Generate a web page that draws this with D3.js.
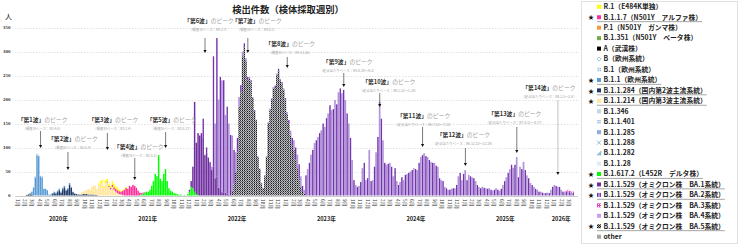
<!DOCTYPE html>
<html lang="ja">
<head>
<meta charset="utf-8">
<title>検出件数（検体採取週別）</title>
<script src="https://cdn.jsdelivr.net/npm/d3@7"></script>
<style>
  body { margin: 0; background: #fff; }
  svg { display: block; }
</style>
</head>
<body>
<div id="vis"></div>
<script>
// weekly detections per lineage; week 0 starts 2020-01-01
const firstDay = Date.UTC(2020, 0, 1);
const weekCount = 327;

const wkA = 7;      const cntA = [1, 2, 2, 1];
const wkB11 = 9;    const cntB11 = [3, 7, 17, 38, 84, 82, 40, 38, 14, 14, 11, 2, 2, 2, 3, 2, 3, 3, 2, 3, 3, 2, 2, 3, 2, 1];
const wkB1 = 11;    const cntB1 = [1, 2, 4, 3, 2, 2];
const wk284 = 22;   const cnt284 = [3, 5, 4, 7, 11, 6, 13, 17, 10, 13, 23, 16, 7, 4, 3, 2, 2, 2, 3, 3, 3, 2, 2, 2, 2, 1, 1];
const wk214 = 38;   const cnt214 = [2, 4, 5, 7, 9, 12, 10, 16, 18, 20, 13, 22, 25, 26, 16, 25, 27, 18, 13, 18, 12, 8, 5, 3, 2, 1];
const wkR1 = 49;    const cntR1 = [3, 5, 7, 4, 7, 6, 5, 4, 8, 7, 6, 5, 3, 2, 2, 2, 2, 1];
const wkAlpha = 54; const cntAlpha = [2, 2, 3, 4, 5, 6, 6, 6, 6, 9, 12, 16, 14, 20, 18, 22, 20, 16, 10, 5, 3, 2, 1];
const wkDelta = 73; const cntDelta = [1, 2, 4, 6, 8, 8, 12, 20, 30, 45, 40, 84, 35, 30, 45, 55, 30, 15, 10, 8, 5, 4, 3, 1, 2, 0, 1, 0, 3, 8, 18, 15, 8, 3, 1];
const wkBA1 = 102;  const cntBA1 = [4, 12, 45, 187, 107, 129, 125, 130, 120, 84, 90, 78, 68, 53, 60, 36, 40, 16, 15, 7, 6, 5, 4, 2, 1];
const wkBA2 = 110;  const cntBA2 = [
  40, 1, 10, 2, 2, 7, 230, 114, 288, 184, 232, 233, 234, 163, 181, 148, 125, 115, 70, 40,
  30, 20, 15, 10, 8, 6, 5, 4, 3, 2, 2, 1, 1, 1, 1, 1, 2, 2, 2, 3,
  3, 3, 3, 3, 3, 3, 3, 3, 3, 4, 7, 10, 15, 20, 25, 30, 30, 22, 12, 8,
  42, 55, 68, 85, 95, 109, 115, 122, 130, 136, 150, 143, 161, 171, 188, 178, 180, 199, 190, 215,
  223, 213, 220, 199, 171, 150, 120, 74, 32, 22, 18, 20, 28, 57, 68, 32, 36, 95, 30, 32,
  60, 90, 122, 195, 160, 115, 68, 64, 66, 68, 60, 40, 57, 30, 22, 28, 38, 32, 43, 45,
  47, 50, 53, 57, 55, 53, 68, 80, 84, 88, 82, 80, 74, 70, 68, 68, 62, 60, 36, 32,
  30, 18, 15, 12, 12, 14, 15, 15, 22, 40, 47, 32, 45, 53, 32, 43, 40, 38, 36, 30,
  22, 18, 15, 18, 16, 15, 14, 15, 12, 10, 12, 15, 12, 10, 14, 22, 30, 38, 47, 55,
  64, 58, 64, 80, 38, 60, 55, 70, 53, 42, 36, 26, 22, 18, 14, 12, 8, 8, 6, 5,
  5, 6, 5, 12, 18, 22, 20, 18, 18, 12, 8, 7, 8, 9, 7, 6, 6
];
const wkBA3 = 321;  const cntBA3 = [1, 2, 3, 3, 2, 2];
const wkBA5 = 127;  const cntBA5 = [
  10, 25, 50, 90, 185, 215, 290, 309, 280, 242, 243, 237, 203, 176, 157, 80, 55, 25, 15, 40,
  80, 150, 178, 199, 223, 226, 251, 261, 240, 233, 220, 200, 170, 150, 125, 105, 95, 75, 55, 35,
  18, 8, 4
];

// stacking order, bottom to top
const stackKeys = ["B.1.617.2", "BA.5", "BA.1", "BA.2", "BA.3", "A", "B.1.1.284", "B.1.1", "B.1", "B.1.1.214", "B.1.1.7", "R.1"];
const seriesStart = {"A": wkA, "B.1.1": wkB11, "B.1": wkB1, "B.1.1.284": wk284, "B.1.1.214": wk214, "R.1": wkR1,
  "B.1.1.7": wkAlpha, "B.1.617.2": wkDelta, "BA.1": wkBA1, "BA.2": wkBA2, "BA.3": wkBA3, "BA.5": wkBA5};
const seriesValues = {"A": cntA, "B.1.1": cntB11, "B.1": cntB1, "B.1.1.284": cnt284, "B.1.1.214": cnt214, "R.1": cntR1,
  "B.1.1.7": cntAlpha, "B.1.617.2": cntDelta, "BA.1": cntBA1, "BA.2": cntBA2, "BA.3": cntBA3, "BA.5": cntBA5};

// legend, top to bottom
const legendKeys = ["R.1", "B.1.1.7", "P.1", "B.1.351", "A", "B", "B.1", "B.1.1", "B.1.1.284", "B.1.1.214",
  "B.1.346", "B.1.1.401", "B.1.1.285", "B.1.1.288", "B.1.1.282", "B.1.1.28", "B.1.617.2",
  "BA.1", "BA.2", "BA.3", "BA.4", "BA.5", "other"];
const legendNames = [
  "R.1（E484K単独）", "B.1.1.7（N501Y　アルファ株）", "P.1（N501Y　ガンマ株）", "B.1.351（N501Y　ベータ株）",
  "A（武漢株）", "B（欧州系統）", "B.1（欧州系統）", "B.1.1（欧州系統）", "B.1.1.284（国内第2波主流系統）",
  "B.1.1.214（国内第3波主流系統）", "B.1.346", "B.1.1.401", "B.1.1.285", "B.1.1.288", "B.1.1.282", "B.1.1.28",
  "B.1.617.2（L452R　デルタ株）", "B.1.1.529（オミクロン株　BA.1系統）", "B.1.1.529（オミクロン株　BA.2系統）",
  "B.1.1.529（オミクロン株　BA.3系統）", "B.1.1.529（オミクロン株　BA.4系統）", "B.1.1.529（オミクロン株　BA.5系統）", "other"];
const starredKeys = ["B.1.1.7", "B.1.1", "B.1.1.284", "B.1.1.214", "B.1.617.2", "BA.1", "BA.2", "BA.5"];

// wave peak annotations
const waveNames = ["第1波", "第2波", "第3波", "第4波", "第5波", "第6波", "第7波", "第8波", "第9波", "第10波", "第11波", "第12波", "第13波", "第14波"];
const waveBasis = [
  "（検査日ベース：R2.4.6）", "（検査日ベース：R2.8.4）", "（検査日ベース：R3.1.4）", "（検査日ベース：R3.5.3）",
  "（検査日ベース：R3.8.17）", "（検査日ベース：R4.2.7）", "（検査日ベース：R4.8.1）", "（検査日ベース：R4.12.26）",
  "（定点当たりベース：R5.8.28～9.3）", "（定点当たりベース：R6.1.22～1.28）", "（定点当たりベース：R6.7.22～7.28）",
  "（定点当たりベース：R6.12.23～12.29）", "（定点当たりベース：R7.8.11～8.17）", "（定点当たりベース：R8.2.2～2.8）"];
const wavePeakWeek = [15, 31, 54, 70, 88, 111, 136, 159, 192, 213, 238, 263, 293, 317];

const yTicks = [0, 50, 100, 150, 200, 250, 300, 350];

// ---- layout ----
const W = 740, H = 246;
const jp = '"Noto Sans CJK JP", "Noto Sans", sans-serif';
const dayMs = 864e5;
const weekDate = i => new Date(firstDay + i * 7 * dayMs);

const x = d3.scaleUtc()
  .domain([new Date(firstDay), new Date(Date.UTC(2026, 3, 15))])
  .range([14, 575.9]);
const y = d3.scaleLinear().domain([0, 350]).range([195.5, 27.5]);
const step = x(weekDate(1)) - x(weekDate(0));

const svg = d3.select("#vis").append("svg")
  .attr("width", W).attr("height", H)
  .style("font-family", jp);

// patterns
const defs = svg.append("defs");
const ba2 = defs.append("pattern").attr("id", "pBA2").attr("patternUnits", "userSpaceOnUse")
  .attr("x", x(weekDate(0))).attr("width", step * 2).attr("height", 4);
ba2.append("rect").attr("width", step).attr("height", 4).attr("fill", "#7434ac");
ba2.append("rect").attr("x", step).attr("width", step).attr("height", 4).attr("fill", "#b293dc");

const ba5 = defs.append("pattern").attr("id", "pBA5").attr("patternUnits", "userSpaceOnUse")
  .attr("width", 2).attr("height", 2);
ba5.append("rect").attr("width", 2).attr("height", 2).attr("fill", "#1c1c1c");
ba5.append("rect").attr("x", 1).attr("width", 1).attr("height", 1).attr("fill", "#b8b8c4");
ba5.append("rect").attr("y", 1).attr("width", 1).attr("height", 1).attr("fill", "#9a9aa6");

const ba3 = defs.append("pattern").attr("id", "pBA3").attr("patternUnits", "userSpaceOnUse")
  .attr("width", 2).attr("height", 2);
ba3.append("rect").attr("width", 2).attr("height", 2).attr("fill", "#e040c8");
ba3.append("rect").attr("width", 1).attr("height", 1).attr("fill", "#ffffff");

const b1 = defs.append("pattern").attr("id", "pB1").attr("patternUnits", "userSpaceOnUse")
  .attr("width", 2).attr("height", 2);
b1.append("rect").attr("width", 2).attr("height", 2).attr("fill", "#dbe8f6");
b1.append("rect").attr("width", 1).attr("height", 1).attr("fill", "#8fb4e0");

const lineageFill = {
  "R.1": "#ffff00", "B.1.1.7": "#ff2d9a", "P.1": "#f79646", "B.1.351": "#70ad47", "A": "#000000",
  "B": "#5b9bd5", "B.1": "url(#pB1)", "B.1.1": "#5b9bd5", "B.1.1.284": "#1f3864", "B.1.1.214": "#ffe699",
  "B.1.346": "#bdd7ee", "B.1.1.401": "#5b9bd5", "B.1.1.285": "#8faadc", "B.1.1.288": "#5b9bd5",
  "B.1.1.282": "#9dc3e6", "B.1.1.28": "#deebf7", "B.1.617.2": "#00ff00", "BA.1": "#7030a0",
  "BA.2": "url(#pBA2)", "BA.3": "url(#pBA3)", "BA.4": "#cc99ff", "BA.5": "url(#pBA5)", "other": "#a6a6a6"
};

// title
svg.append("text").attr("x", 288).attr("y", 12.5).attr("text-anchor", "middle")
  .attr("font-size", 9.3).attr("font-weight", "bold").attr("fill", "#222")
  .text("検出件数（検体採取週別）");
svg.append("text").attr("x", 5).attr("y", 18.5).attr("font-size", 7).attr("fill", "#222").text("人");

// gridlines and y labels
svg.append("g").selectAll("line").data(yTicks).join("line")
  .attr("x1", 15).attr("x2", 578)
  .attr("y1", d => Math.round(y(d)) + 0.5).attr("y2", d => Math.round(y(d)) + 0.5)
  .attr("stroke", d => d === 0 ? "#bfbfbf" : "#dcdcdc")
  .attr("stroke-width", 0.8)
  .attr("stroke-dasharray", d => d === 0 ? null : "1.5,1.5");
svg.append("g").selectAll("text").data(yTicks).join("text")
  .attr("x", 10.5).attr("y", d => y(d) + 1.8).attr("text-anchor", "end")
  .attr("font-size", 5).attr("font-weight", "bold").attr("fill", "#333")
  .style("font-family", '"Liberation Serif", serif')
  .text(d => d);

// stacked weekly bars
const table = d3.range(weekCount).map(i => {
  const row = {week: i};
  stackKeys.forEach(k => {
    const j = i - seriesStart[k];
    row[k] = j >= 0 && j < seriesValues[k].length ? seriesValues[k][j] : 0;
  });
  return row;
});
const stacked = d3.stack().keys(stackKeys)(table);
svg.append("g").selectAll("g").data(stacked).join("g")
  .attr("fill", s => lineageFill[s.key])
  .selectAll("rect").data(s => s.filter(d => d[1] > d[0])).join("rect")
  .attr("x", d => x(weekDate(d.data.week)))
  .attr("width", step * 0.86)
  .attr("y", d => y(d[1]))
  .attr("height", d => y(d[0]) - y(d[1]));

// month and year labels
const months = d3.utcMonth.range(new Date(Date.UTC(2020, 0, 1)), new Date(Date.UTC(2026, 3, 1)));
const monthX = m => x(new Date(Date.UTC(m.getUTCFullYear(), m.getUTCMonth(), 15)));
svg.append("g").selectAll("text").data(months).join("text")
  .attr("transform", m => `translate(${monthX(m) - 1.7},199) rotate(90)`)
  .attr("font-size", 4.8).attr("fill", "#333")
  .text(m => (m.getUTCMonth() + 1) + "月");
const years = d3.groups(months, m => m.getUTCFullYear());
svg.append("g").selectAll("text").data(years).join("text")
  .attr("x", ([, ms]) => d3.mean(ms, monthX)).attr("y", 221)
  .attr("text-anchor", "middle").attr("font-size", 5.6).attr("font-weight", "bold").attr("fill", "#222")
  .text(([yr]) => yr + "年");

// wave annotations: [label shift, label baseline, arrow top, arrow tip]
const annoLayout = [
  [2, 121.5, 131, 148], [5, 140.5, 152, 170], [6, 121.5, 133, 150], [4, 148.5, 158, 180],
  [6, 121.5, 132, 148], [4, 22.5, 38, 53], [9, 22.5, 38, 53], [3, 45.5, 57, 68],
  [4, 63.5, 73, 87], [9, 83.5, 93, 107], [1, 117.5, 127, 147], [-2, 136.5, 148, 166],
  [-2, 115.5, 127, 153], [-9, 89.5, 100, 175]
];
const anno = svg.append("g").selectAll("g").data(waveNames).join("g");
anno.each(function (name, i) {
  const g = d3.select(this);
  const ax = x(weekDate(wavePeakWeek[i])) + step / 2;
  const [shift, ly, a0, a1] = annoLayout[i];
  const t = g.append("text").attr("x", ax + shift).attr("y", ly).attr("text-anchor", "middle").attr("font-size", 5.8);
  t.append("tspan").attr("font-weight", "bold").attr("fill", "#333").text("「" + name + "」");
  t.append("tspan").attr("fill", "#a0a0a0").text("のピーク");
  g.append("text").attr("x", ax + shift).attr("y", ly + 8).attr("text-anchor", "middle")
    .attr("font-size", 3.4).attr("fill", "#a0a0a0").text(waveBasis[i]);
  g.append("line").attr("x1", ax).attr("x2", ax).attr("y1", a0).attr("y2", a1 - 2.5)
    .attr("stroke", i === 13 ? "#9a9a9a" : "#222").attr("stroke-width", 0.6);
  g.append("path").attr("d", `M${ax - 1.6},${a1 - 3}L${ax + 1.6},${a1 - 3}L${ax},${a1}Z`).attr("fill", "#111");
});

// legend
const lg = svg.append("g");
lg.append("rect").attr("x", 581.5).attr("y", 1.5).attr("width", 156).attr("height", 242)
  .attr("fill", "#fff").attr("stroke", "#d9d9d9").attr("stroke-width", 0.8);
const rowY = i => 6.8 + i * 10.45;
const items = lg.selectAll("g.item").data(legendKeys).join("g").attr("class", "item");
items.each(function (key, i) {
  const g = d3.select(this);
  const cy = rowY(i);
  if (starredKeys.includes(key)) {
    g.append("text").attr("x", 591).attr("y", cy + 2.2).attr("text-anchor", "middle")
      .attr("font-size", 6).attr("fill", "#111").text("★");
  }
  if (key === "B") {
    g.append("path").attr("d", `M${597},${cy}l2,-2l2,2l-2,2z`).attr("fill", "none").attr("stroke", "#5b9bd5").attr("stroke-width", 0.6);
  } else if (key === "B.1.1.401") {
    g.append("path").attr("d", `M597,${cy - 1}h4M597,${cy + 1}h4`).attr("stroke", "#5b9bd5").attr("stroke-width", 0.7);
  } else if (key === "B.1.1.288") {
    g.append("path").attr("d", `M597,${cy - 2}l4,4M601,${cy - 2}l-4,4`).attr("stroke", "#5b9bd5").attr("stroke-width", 0.7);
  } else if (key === "B.1.1.282") {
    g.append("path").attr("d", `M597,${cy + 2}l4,-4v4z`).attr("fill", lineageFill[key]).attr("stroke", "#5b9bd5").attr("stroke-width", 0.4);
  } else {
    g.append("rect").attr("x", 597).attr("y", cy - 2).attr("width", 4).attr("height", 4).attr("fill", lineageFill[key]);
  }
  const t = g.append("text").attr("x", 603.5).attr("y", cy + 2.3).attr("font-size", 6.8)
    .attr("font-weight", "bold").attr("fill", "#222").text(legendNames[i]);
  if (starredKeys.includes(key)) {
    const w = t.node().getComputedTextLength();
    g.append("line").attr("x1", 597).attr("x2", 603.5 + w).attr("y1", cy + 4.4).attr("y2", cy + 4.4)
      .attr("stroke", "#7f7f7f").attr("stroke-width", 0.7);
  }
});
</script>
</body>
</html>
